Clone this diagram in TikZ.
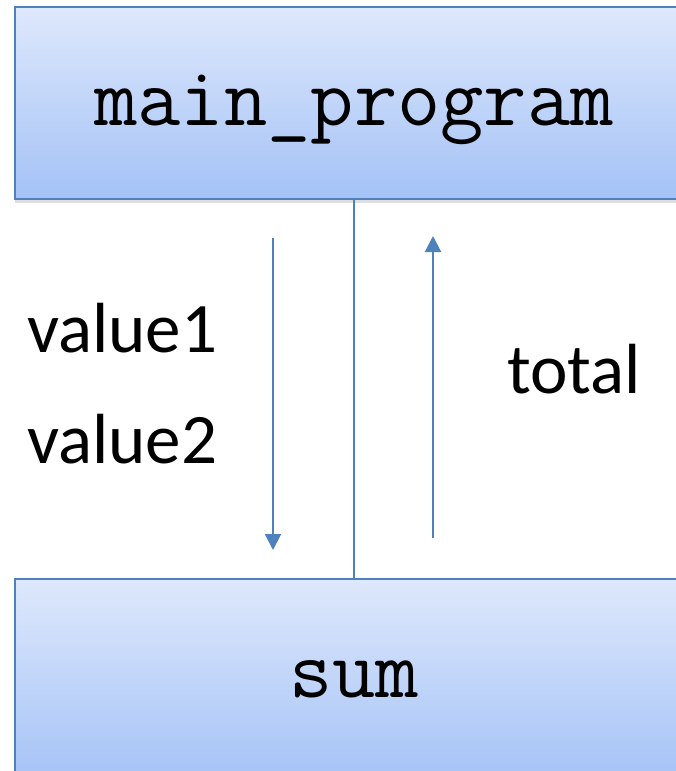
\documentclass[tikz,border=0pt]{standalone}
\usepackage{fontspec}
\newfontfamily\labelfont{Carlito}
\usetikzlibrary{arrows.meta, shadows}

\definecolor{boxtop}{RGB}{222,232,252}
\definecolor{boxbottom}{RGB}{164,194,246}
\definecolor{boxline}{RGB}{79,129,189}

\tikzset{
    procbox/.style={draw=boxline, line width=2pt, top color=boxtop, bottom color=boxbottom,
        minimum width=678pt, inner sep=0pt, font=\fontsize{84}{84}\selectfont\ttfamily,
        drop shadow={shadow xshift=0pt, shadow yshift=-4pt, opacity=0.25}},
    flow/.style={boxline, line width=2pt, -{Triangle[width=16pt,length=16pt]}},
    lbl/.style={anchor=base west, inner sep=0pt, font=\fontsize{71}{71}\selectfont\labelfont},
}

\begin{document}
\begin{tikzpicture}[x=1pt, y=-1pt]
    \clip (0,0) rectangle (676,771);

    \node[procbox, minimum height=192pt, text height=60pt, text depth=16pt] at (354,103) (main) {main\_program};
    \node[procbox, minimum height=204pt, text height=48pt, text depth=16pt] at (354,681) (sum) {sum};
    \draw[boxline, line width=2pt] (main.south) -- (sum.north);

    % arguments down, result up
    \coordinate (dtop) at (273,238);
    \coordinate (dbot) at (273,550);
    \coordinate (ubot) at (433,538);
    \coordinate (utop) at (433,236);
    \draw[flow] (dtop) -- (dbot);
    \draw[flow] (ubot) -- (utop);

    \node[lbl] at (27,352) (nv1) {value1};
    \node[lbl] at (27,463) (nv2) {value2};
    \node[lbl] at (507,393) (ntot) {total};
\end{tikzpicture}
\end{document}
